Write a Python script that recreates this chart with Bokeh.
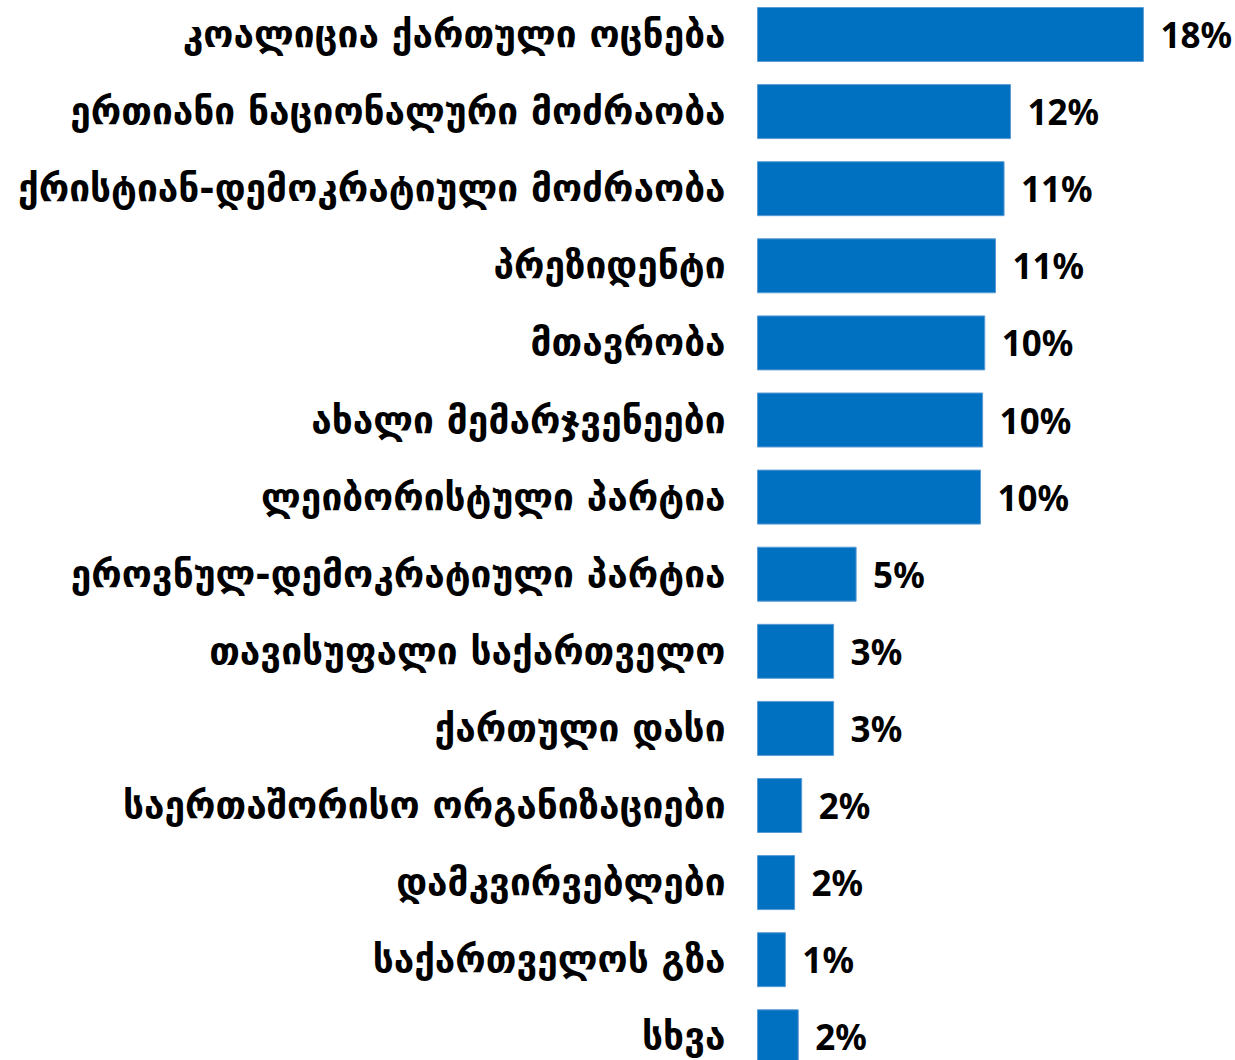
from bokeh.plotting import figure
from bokeh.models import ColumnDataSource, Range1d
from bokeh.core.properties import value
from bokeh.embed import file_html
from bokeh.resources import INLINE

categories = [
    "კოალიცია ქართული ოცნება",
    "ერთიანი ნაციონალური მოძრაობა",
    "ქრისტიან-დემოკრატიული მოძრაობა",
    "პრეზიდენტი",
    "მთავრობა",
    "ახალი მემარჯვენეები",
    "ლეიბორისტული პარტია",
    "ეროვნულ-დემოკრატიული პარტია",
    "თავისუფალი საქართველო",
    "ქართული დასი",
    "საერთაშორისო ორგანიზაციები",
    "დამკვირვებლები",
    "საქართველოს გზა",
    "სხვა",
]
values = [18.0, 11.8, 11.5, 11.1, 10.6, 10.5, 10.4, 4.6, 3.55, 3.55, 2.06, 1.73, 1.3, 1.9]
value_labels = ["18%", "12%", "11%", "11%", "10%", "10%", "10%", "5%", "3%", "3%", "2%", "2%", "1%", "2%"]

W, H = 1235, 1060
px_per = 21.44
bar_left_px = 757
first_center_px = 34
step_px = 77.1

x_start = -bar_left_px / px_per
x_end = (W - bar_left_px) / px_per
y_top = -first_center_px / step_px
y_bottom = (H - first_center_px) / step_px

idx = list(range(len(categories)))
src = ColumnDataSource(dict(y=idx, v=values, cat=categories, lab=value_labels, zero=[0] * len(idx)))

p = figure(width=W, height=H, output_backend="svg", toolbar_location=None,
           x_range=Range1d(x_start, x_end), y_range=Range1d(y_bottom, y_top),
           min_border=0, outline_line_color=None)
p.axis.visible = False
p.grid.visible = False
p.background_fill_color = "white"
p.border_fill_color = "white"

p.hbar(y="y", left=0, right="v", height=0.7, source=src,
       fill_color="#0070C0", line_color="#5B9BD5", line_width=1)

p.text(x="zero", y="y", text="cat", source=src, x_offset=-32,
       text_align="right", text_baseline="middle",
       text_font=value("DejaVu Sans"), text_font_style="bold",
       text_font_size="37px", text_color="black")

p.text(x="v", y="y", text="lab", source=src, x_offset=17,
       text_align="left", text_baseline="middle",
       text_font=value("Noto Sans"), text_font_style="bold",
       text_font_size="35px", text_color="black")

open("out.html", "w").write(file_html(p, INLINE))
